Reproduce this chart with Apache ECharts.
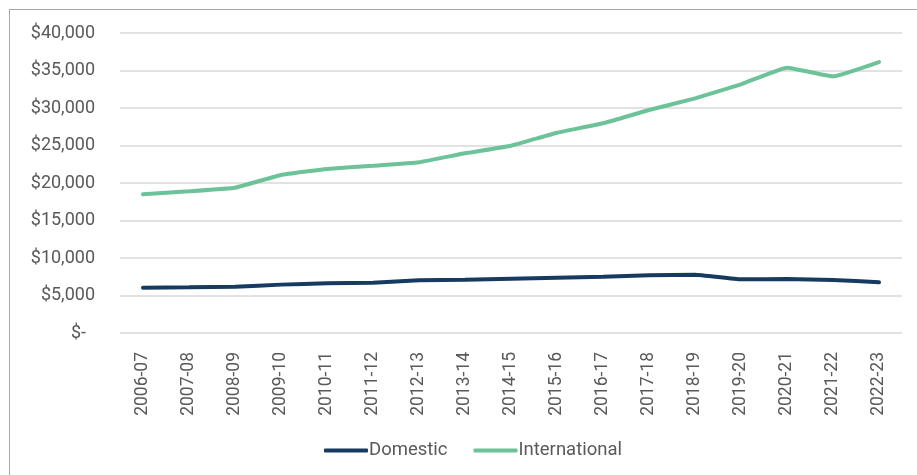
<!DOCTYPE html>
<html>
<head>
<meta charset="utf-8">
<script src="https://cdn.jsdelivr.net/npm/echarts@6/dist/echarts.min.js"></script>
<style>
html,body{margin:0;padding:0;background:#fff;}
#frame{position:absolute;left:9px;top:9px;width:930px;height:490px;border:1px solid #a6a6a6;box-sizing:border-box;}
#chart{position:absolute;left:0;top:0;width:917px;height:475px;}
</style>
</head>
<body>
<div id="frame"></div>
<div id="chart"></div>
<script>
const categories = ['2006-07','2007-08','2008-09','2009-10','2010-11','2011-12','2012-13','2013-14','2014-15','2015-16','2016-17','2017-18','2018-19','2019-20','2020-21','2021-22','2022-23'];
const domestic = [6040,6090,6180,6450,6620,6710,7020,7100,7240,7380,7510,7690,7780,7160,7200,7070,6760];
const international = [18490,18900,19370,21070,21870,22300,22760,23960,24970,26700,27960,29730,31290,33160,35380,34220,36130];
const yTicks = {min:0, max:40000, interval:5000};

const chart = echarts.init(document.getElementById('chart'), null, {renderer:'canvas'});
const fmt = v => v === 0 ? '$-  ' : '$' + v.toLocaleString('en-US');
chart.setOption({
  animation:false,
  textStyle:{fontFamily:'Roboto'},
  grid:{left:120, right:15, top:33, bottom:142, containLabel:false},
  legend:{
    top:436, left:319,
    itemWidth:44, itemHeight:4, itemGap:26,
    icon:'roundRect',
    textStyle:{fontSize:18.5, color:'#595959', fontFamily:'Roboto', padding:[0,0,0,-4]},
    data:['Domestic','International']
  },
  xAxis:{
    type:'category', data:categories, boundaryGap:true,
    axisLine:{show:false}, axisTick:{show:false},
    axisLabel:{rotate:90, fontSize:17.5, color:'#595959', margin:19, interval:0, fontFamily:'Roboto'}
  },
  yAxis:{
    type:'value', min:yTicks.min, max:yTicks.max, interval:yTicks.interval,
    axisLine:{show:false}, axisTick:{show:false},
    axisLabel:{fontSize:18, color:'#595959', margin:25, formatter:fmt, fontFamily:'Roboto'},
    splitLine:{lineStyle:{color:'#d9d9d9', width:1.5}}
  },
  series:[
    {name:'Domestic', type:'line', data:domestic, symbol:'none', smooth:0.1,
     lineStyle:{color:'#163a60', width:4, cap:'round'}, itemStyle:{color:'#163a60'}},
    {name:'International', type:'line', data:international, symbol:'none', smooth:0.1,
     lineStyle:{color:'#6cc299', width:4, cap:'round'}, itemStyle:{color:'#6cc299'}}
  ]
});
</script>
</body>
</html>
